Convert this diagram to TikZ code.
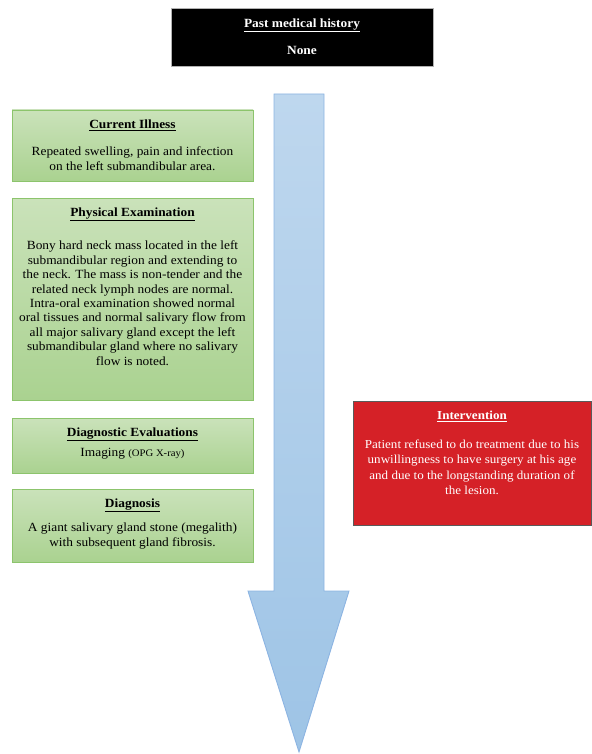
\documentclass[tikz,border=0pt]{standalone}
\usepackage{fontspec}
\setmainfont{Liberation Serif}[FakeStretch=1.07]
\usetikzlibrary{positioning}

\definecolor{greentop}{RGB}{202,226,186}
\definecolor{greenbot}{RGB}{170,210,144}
\definecolor{greenline}{RGB}{140,196,108}
\definecolor{redfill}{RGB}{213,33,39}
\definecolor{redline}{RGB}{90,90,90}
\definecolor{bluetop}{RGB}{190,215,238}
\definecolor{bluebot}{RGB}{158,196,230}
\definecolor{blueline}{RGB}{140,180,226}

\newcommand{\boxhead}[1]{\underline{\textbf{#1}}}

\tikzset{
  greenbox/.style={draw=greenline, line width=0.9pt, top color=greentop, bottom color=greenbot,
    minimum width=241pt, inner sep=0pt},
  blackbox/.style={draw=gray!60, line width=0.6pt, fill=black, minimum width=262pt, inner sep=0pt},
  redbox/.style={draw=redline, line width=0.8pt, fill=redfill, minimum width=238pt, inner sep=0pt},
  boxtext/.style={anchor=north, inner sep=0pt, align=center, font=\fontsize{12.5}{14.4}\selectfont},
  bigarrow/.style={draw=blueline, line width=0.9pt, top color=bluetop, bottom color=bluebot},
}

\begin{document}
\begin{tikzpicture}[x=1pt,y=1pt]
  \useasboundingbox (0,0) rectangle (591,-754);
  % timeline arrow
  \coordinate (arrowtop) at (299,-94);
  \coordinate (arrowtip) at (299,-752);
  \path[bigarrow] (274,-94) -- (324,-94) -- (324,-591) -- (349,-591)
    -- (arrowtip) -- (248,-591) -- (274,-591) -- cycle;

  % history
  \node[blackbox, minimum height=58pt] (history) at (302,-37) {};
  \node[boxtext, text=white, yshift=-10.5pt] (historytext) at (history.north)
    {\boxhead{Past medical history}\\[13.5pt]\textbf{None}};

  % left column
  \node[greenbox, minimum height=71pt] (illness) at (132.5,-145.5) {};
  \node[boxtext, yshift=-10pt] (illnesstext) at (illness.north)
    {\boxhead{Current Illness}\\[13pt]
     Repeated swelling, pain and infection\\
     on the left submandibular area.};

  \node[greenbox, minimum height=202pt] (exam) at (132.5,-299) {};
  \node[boxtext, yshift=-10pt] (examtext) at (exam.north)
    {\boxhead{Physical Examination}\\[19pt]
     Bony hard neck mass located in the left\\
     submandibular region and extending to\\
     the neck. The mass is non-tender and the\\
     related neck lymph nodes are normal.\\
     Intra-oral examination showed normal\\
     oral tissues and normal salivary flow from\\
     all major salivary gland except the left\\
     submandibular gland where no salivary\\
     flow is noted.};

  \node[greenbox, minimum height=55pt] (evals) at (132.5,-445.5) {};
  \node[boxtext, yshift=-10pt] (evalstext) at (evals.north)
    {\boxhead{Diagnostic Evaluations}\\[5.5pt]
     Imaging {\fontsize{10}{12}\selectfont(OPG X-ray)}};

  \node[greenbox, minimum height=73pt] (diagnosis) at (132.5,-525.5) {};
  \node[boxtext, yshift=-10pt] (diagnosistext) at (diagnosis.north)
    {\boxhead{Diagnosis}\\[10pt]
     A giant salivary gland stone (megalith)\\
     with subsequent gland fibrosis.};

  % right column
  \node[redbox, minimum height=124pt] (intervention) at (472,-463) {};
  \node[boxtext, text=white, yshift=-10.5pt, font=\fontsize{12.2}{15.3}\selectfont]
    (interventiontext) at (intervention.north)
    {\boxhead{Intervention}\\[13.5pt]
     Patient refused to do treatment due to his\\
     unwillingness to have surgery at his age\\
     and due to the longstanding duration of\\
     the lesion.};
\end{tikzpicture}
\end{document}
